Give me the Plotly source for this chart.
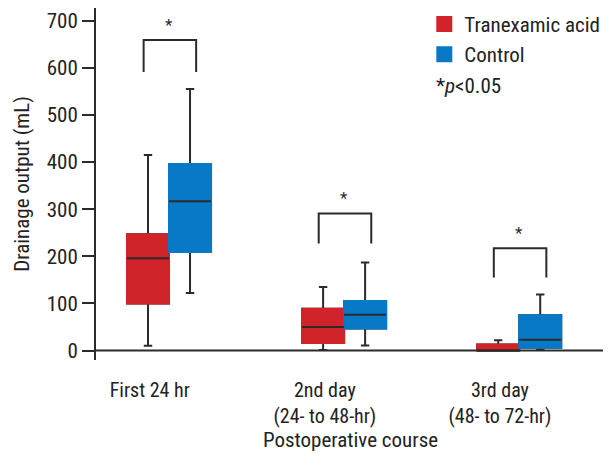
import plotly.graph_objects as go

# ---- data ----
groups = [1, 2, 3]
group_labels = ["First 24 hr", "2nd day<br>(24- to 48-hr)", "3rd day<br>(48- to 72-hr)"]
series_names = ["Tranexamic acid", "Control"]

txa_lower = [10, 1, 0]
txa_q1 = [100, 16, 0]
txa_median = [196, 50, 0]
txa_q3 = [247, 89, 13]
txa_upper = [415, 135, 22]

ctl_lower = [122, 11, 1]
ctl_q1 = [209, 47, 6]
ctl_median = [317, 76, 23]
ctl_q3 = [396, 105, 75]
ctl_upper = [555, 187, 119]

bracket_top = [659, 291, 217]
bracket_end = [591, 227, 155]

y_ticks = [0, 100, 200, 300, 400, 500, 600, 700]

# ---- style ----
RED = "#d0232a"
BLUE = "#0879c6"
DARK = "#2b2b2b"
FONT = "Liberation Sans Narrow, Roboto Condensed, Roboto, sans-serif"
FS = 21

fig = go.Figure()

series = [
    ("txa", series_names[0], RED, txa_lower, txa_q1, txa_median, txa_q3, txa_upper),
    ("ctl", series_names[1], BLUE, ctl_lower, ctl_q1, ctl_median, ctl_q3, ctl_upper),
]

# whiskers (dark)
for og, name, col, lo, q1, med, q3, up in series:
    fig.add_trace(go.Box(
        x=groups, q1=q1, median=med, q3=q3, lowerfence=lo, upperfence=up,
        offsetgroup=og, name=name, showlegend=False,
        line=dict(color=DARK, width=2), fillcolor=col, whiskerwidth=0.2,
        boxpoints=False, hoverinfo="skip"))
# filled boxes (no dark outline)
for og, name, col, lo, q1, med, q3, up in series:
    fig.add_trace(go.Box(
        x=groups, q1=q1, median=q3, q3=q3, lowerfence=q1, upperfence=q3,
        offsetgroup=og, name=name, showlegend=False,
        line=dict(color=col, width=2), fillcolor=col, whiskerwidth=0,
        boxpoints=False, hoverinfo="skip"))
# medians
for og, name, col, lo, q1, med, q3, up in series:
    fig.add_trace(go.Box(
        x=groups, q1=med, median=med, q3=med, lowerfence=med, upperfence=med,
        offsetgroup=og, name=name, showlegend=False,
        line=dict(color=DARK, width=2), fillcolor=col, whiskerwidth=0,
        boxpoints=False, hoverinfo="skip"))

# legend entries
for og, name, col, *_ in series:
    fig.add_trace(go.Scatter(
        x=[None], y=[None], mode="markers", name=name,
        marker=dict(symbol="square", size=16, color=col)))

# significance brackets
for g, top, end in zip(groups, bracket_top, bracket_end):
    fig.add_trace(go.Scatter(
        x=[g - 0.145, g - 0.145, g + 0.155, g + 0.155],
        y=[end, top, top, end], mode="lines",
        line=dict(color=DARK, width=2), showlegend=False, hoverinfo="skip"))
    fig.add_annotation(x=g, y=top, text="*", showarrow=False,
                       yanchor="middle", yshift=15,
                       font=dict(size=17, color=DARK, family=FONT))

fig.add_annotation(x=0.665, y=0.779, xref="paper", yref="paper",
                   text="*<i>p</i>&lt;0.05", showarrow=False,
                   xanchor="left", yanchor="middle",
                   font=dict(size=FS, color="#222", family=FONT))

# x-axis baseline at y=0
fig.add_shape(type="line", xref="paper", yref="y", x0=0, x1=1, y0=0, y1=0,
              line=dict(color=DARK, width=2), layer="above")

# page body has an 8px margin, so the figure is laid out 8px smaller/shifted
fig.update_layout(
    width=603, height=458,
    margin=dict(l=88, r=6, t=0, b=106, autoexpand=False),
    paper_bgcolor="white", plot_bgcolor="white",
    boxmode="group", boxgap=0.52, boxgroupgap=0,
    font=dict(family=FONT, size=FS, color="#222"),
    legend=dict(x=0.645, y=1.012, xanchor="left", yanchor="top",
                bgcolor="rgba(0,0,0,0)", font=dict(size=FS, family=FONT),
                tracegroupgap=0),
    xaxis=dict(range=[0.583, 3.49], showline=False, showgrid=False,
               zeroline=False, tickmode="array", automargin=False,
               tickvals=[g - 0.11 for g in groups], ticktext=group_labels,
               ticks="outside", ticklen=12, tickcolor="rgba(0,0,0,0)",
               tickfont=dict(size=20),
               title=dict(text="Postoperative course", standoff=5,
                          font=dict(size=FS))),
    yaxis=dict(range=[-20, 727], showline=True, linecolor=DARK, linewidth=2,
               showgrid=False, zeroline=False, tickmode="array", automargin=False,
               tickvals=y_ticks, ticks="outside", ticklen=12, tickwidth=2,
               tickcolor=DARK, tickfont=dict(size=FS),
               title=dict(text="Drainage output (mL)", standoff=11,
                          font=dict(size=FS))),
)

fig.write_html("out.html")
